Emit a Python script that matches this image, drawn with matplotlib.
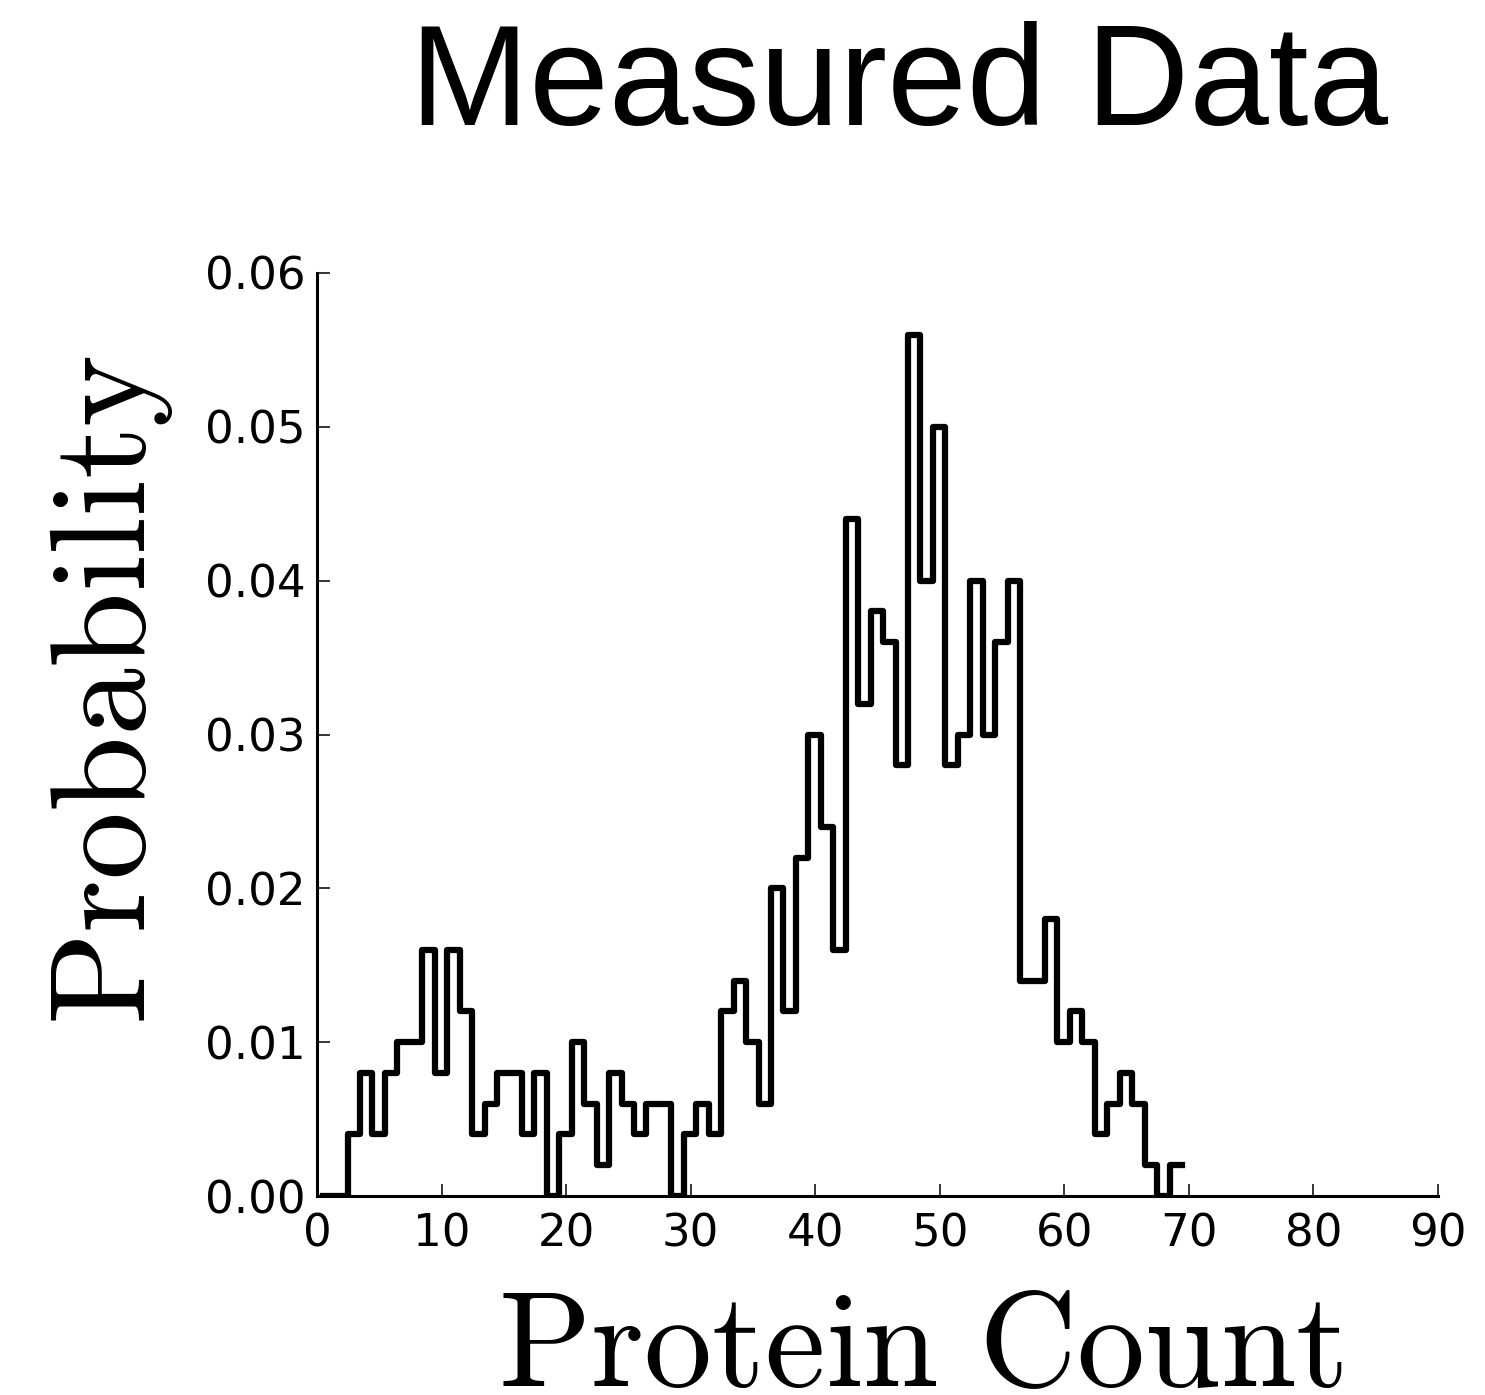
import numpy as np
import matplotlib
matplotlib.use('Agg')
import matplotlib.pyplot as plt

# histogram of measured protein counts (probability per bin, bin width 1)
bin_start = 0.45
bin_width = 1.0
prob = [0.000, 0.000, 0.004, 0.008, 0.004, 0.008, 0.010, 0.010, 0.016, 0.008,
        0.016, 0.012, 0.004, 0.006, 0.008, 0.008, 0.004, 0.008, 0.000, 0.004,
        0.010, 0.006, 0.002, 0.008, 0.006, 0.004, 0.006, 0.006, 0.000, 0.004,
        0.006, 0.004, 0.012, 0.014, 0.010, 0.006, 0.020, 0.012, 0.022, 0.030,
        0.024, 0.016, 0.044, 0.032, 0.038, 0.036, 0.028, 0.056, 0.040, 0.050,
        0.028, 0.030, 0.040, 0.030, 0.036, 0.040, 0.014, 0.014, 0.018, 0.010,
        0.012, 0.010, 0.004, 0.006, 0.008, 0.006, 0.002, 0.000, 0.002]
edges = bin_start + bin_width * np.arange(len(prob) + 1)

xticks = [0, 10, 20, 30, 40, 50, 60, 70, 80, 90]
yticks = [0.00, 0.01, 0.02, 0.03, 0.04, 0.05, 0.06]

plt.rcParams['mathtext.fontset'] = 'cm'

W, H, dpi = 1485, 1395, 100
fig = plt.figure(figsize=(W / dpi, H / dpi), dpi=dpi)
ax = fig.add_axes([317 / W, 1 - 1196 / H, (1438 - 317) / W, (1196 - 273) / H])

ax.stairs(prob, edges, baseline=None, color='black', linewidth=4.5,
          joinstyle='round', capstyle='projecting')

ax.set_xlim(0, 90)
ax.set_ylim(0, 0.06)
ax.set_xticks(xticks)
ax.set_yticks(yticks)
ax.set_yticklabels(['%.2f' % v for v in yticks])

for s in ['top', 'right']:
    ax.spines[s].set_visible(False)
for s in ['left', 'bottom']:
    ax.spines[s].set_linewidth(2.2)

ax.tick_params(direction='in', length=9, width=1.1, labelsize=32.5)
ax.tick_params(axis='y', pad=8)
ax.tick_params(axis='x', pad=12)

# title and axis labels
fig.text(899 / W, 1 - 125 / H, 'Measured Data', family='Liberation Sans',
         fontsize=103, ha='center', va='baseline')
fig.text(920 / W, 1 - 1386 / H, r'$\mathrm{Protein\ Count}$', fontsize=98,
         ha='center', va='baseline')
fig.text(145 / W, 1 - 690 / H, r'$\mathrm{Probability}$', fontsize=98,
         rotation=90, rotation_mode='anchor', ha='center', va='baseline')

fig.savefig('out.png', dpi=dpi)
